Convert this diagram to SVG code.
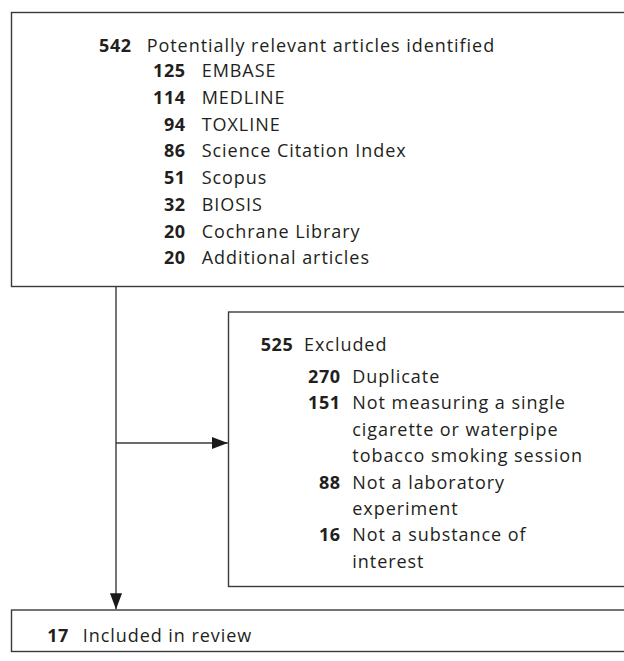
<svg xmlns="http://www.w3.org/2000/svg" width="624" height="661" viewBox="0 0 624 661">
<defs>
<style>
.box{fill:#fff;stroke:#3a3a3a;stroke-width:1.4}
.t{font-family:"Open Sans",Lato,"Liberation Sans",sans-serif;font-size:18px;letter-spacing:0.95px;fill:#231f20}
.n{font-family:"Open Sans",Lato,"Liberation Sans",sans-serif;font-size:18px;letter-spacing:0.5px;font-weight:bold;fill:#231f20;text-anchor:end}
.c{fill:none;stroke:#3a3a3a;stroke-width:1.4}
</style>
<marker id="ah" markerWidth="16" markerHeight="12" refX="16" refY="6" orient="auto" markerUnits="userSpaceOnUse">
<path d="M0,0 L16,6 L0,12 Z" fill="#1a1a1a"/>
</marker>
</defs>
<rect width="624" height="661" fill="#fff"/>
<g id="identified">
<rect class="box" x="11.5" y="12.5" width="640" height="274"/>
<text class="n" x="131.5" y="51.7">542</text><text class="t" x="146.7" y="51.7">Potentially relevant articles identified</text>
<text class="n" x="185.5" y="77.3">125</text><text class="t" x="201.7" y="77.3">EMBASE</text>
<text class="n" x="185.5" y="104">114</text><text class="t" x="201.7" y="104">MEDLINE</text>
<text class="n" x="185.5" y="130.7">94</text><text class="t" x="201.7" y="130.7">TOXLINE</text>
<text class="n" x="185.5" y="157.4">86</text><text class="t" x="201.7" y="157.4">Science Citation Index</text>
<text class="n" x="185.5" y="184.1">51</text><text class="t" x="201.7" y="184.1">Scopus</text>
<text class="n" x="185.5" y="210.9">32</text><text class="t" x="201.7" y="210.9">BIOSIS</text>
<text class="n" x="185.5" y="237.6">20</text><text class="t" x="201.7" y="237.6">Cochrane Library</text>
<text class="n" x="185.5" y="264.3">20</text><text class="t" x="201.7" y="264.3">Additional articles</text>
</g>
<g id="excluded">
<rect class="box" x="228.5" y="312" width="420" height="274.5"/>
<text class="n" x="293.2" y="351">525</text><text class="t" x="304" y="351">Excluded</text>
<text class="n" x="340.5" y="382.7">270</text><text class="t" x="352.3" y="382.7">Duplicate</text>
<text class="n" x="340.5" y="409.1">151</text><text class="t" x="352.3" y="409.1">Not measuring a single</text>
<text class="t" x="352.3" y="435.6">cigarette or waterpipe</text>
<text class="t" x="352.3" y="462">tobacco smoking session</text>
<text class="n" x="340.5" y="488.5">88</text><text class="t" x="352.3" y="488.5">Not a laboratory</text>
<text class="t" x="352.3" y="514.9">experiment</text>
<text class="n" x="340.5" y="541.3">16</text><text class="t" x="352.3" y="541.3">Not a substance of</text>
<text class="t" x="352.3" y="567.7">interest</text>
</g>
<g id="included">
<rect class="box" x="11.5" y="610" width="640" height="41.5"/>
<text class="n" x="68.8" y="641.7">17</text><text class="t" x="82.7" y="641.7">Included in review</text>
</g>
<g id="connectors">
<path class="c" d="M116,286.5 V609.3" marker-end="url(#ah)"/>
<path class="c" d="M116,443 H227.8" marker-end="url(#ah)"/>
</g>
</svg>
